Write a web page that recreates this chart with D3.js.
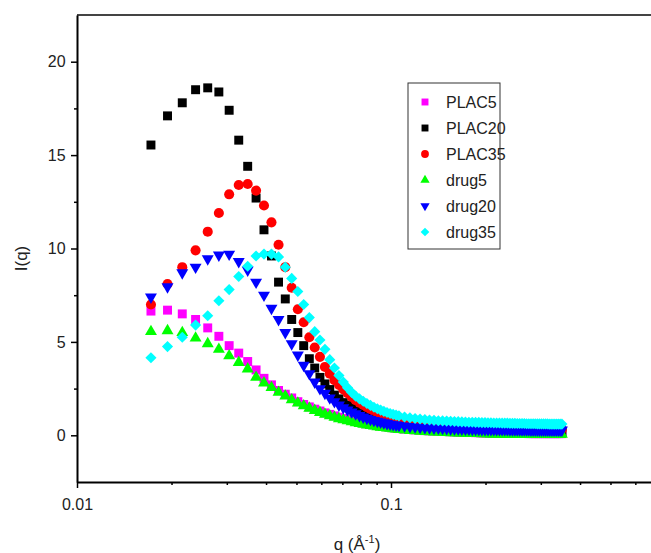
<!DOCTYPE html>
<html lang="en">
<head>
  <meta charset="UTF-8">
  <title>I(q) vs q</title>
  <script src="https://d3js.org/d3.v7.min.js"></script>
  <style>
    body { margin: 0; background: #fff; }
    svg { display: block; font-family: "Liberation Sans", Arial, sans-serif; }
  </style>
</head>
<body>
<script>
// scattering vector q (1/Å), shared by every sample
const q = [0.0172, 0.01942, 0.02164, 0.02386, 0.02608, 0.0283, 0.03052, 0.03274, 0.03496, 0.03718,
  0.0394, 0.04162, 0.04384, 0.04606, 0.04828, 0.0505, 0.05272, 0.05494, 0.05716, 0.05938,
  0.0616, 0.06382, 0.06604, 0.06826, 0.07048, 0.0727, 0.07492, 0.07714, 0.07936, 0.08158,
  0.0838, 0.08602, 0.08824, 0.09046, 0.09268, 0.0949, 0.09712, 0.09934, 0.10156, 0.10378,
  0.106, 0.11044, 0.11488, 0.11932, 0.12376, 0.1282, 0.13264, 0.13708, 0.14152, 0.14596,
  0.1504, 0.15484, 0.15928, 0.16372, 0.16816, 0.1726, 0.17704, 0.18148, 0.18592, 0.19036,
  0.1948, 0.19924, 0.20368, 0.20812, 0.21256, 0.217, 0.22144, 0.22588, 0.23032, 0.23476,
  0.2392, 0.24364, 0.24808, 0.25252, 0.25696, 0.2614, 0.26584, 0.27028, 0.27472, 0.27916,
  0.2836, 0.28804, 0.29248, 0.29692, 0.30136, 0.3058, 0.31024, 0.31468, 0.31912, 0.32356,
  0.328, 0.33244, 0.33688, 0.34132, 0.34576, 0.3502];

const plac5 = [6.65, 6.7, 6.5, 6.2, 5.75, 5.3, 4.8, 4.4, 3.95, 3.5,
  3.05, 2.7, 2.4, 2.2, 2.0, 1.8, 1.65, 1.52, 1.4, 1.3,
  1.2, 1.12, 1.04, 0.97, 0.9, 0.85, 0.8, 0.75, 0.7, 0.66,
  0.62, 0.59, 0.56, 0.53, 0.5, 0.47, 0.45, 0.42, 0.4, 0.38,
  0.36, 0.33, 0.31, 0.29, 0.27, 0.25, 0.24, 0.23, 0.22, 0.21,
  0.2, 0.19, 0.18, 0.17, 0.17, 0.16, 0.15, 0.15, 0.14, 0.14,
  0.13, 0.13, 0.13, 0.12, 0.12, 0.12, 0.11, 0.11, 0.11, 0.11,
  0.1, 0.1, 0.1, 0.1, 0.1, 0.1, 0.1, 0.1, 0.09, 0.09,
  0.09, 0.09, 0.09, 0.09, 0.09, 0.09, 0.09, 0.09, 0.09, 0.09,
  0.09, 0.09, 0.09, 0.09, 0.09, 0.09];

const plac20 = [15.54, 17.1, 17.8, 18.5, 18.6, 18.38, 17.4, 15.8, 14.4, 12.7,
  11.0, 9.6, 8.2, 7.3, 6.2, 5.5, 4.8, 4.1, 3.6, 3.1,
  2.75, 2.45, 2.15, 1.95, 1.75, 1.6, 1.45, 1.32, 1.2, 1.1,
  1.0, 0.93, 0.86, 0.8, 0.74, 0.69, 0.64, 0.6, 0.56, 0.53,
  0.5, 0.45, 0.41, 0.38, 0.35, 0.33, 0.31, 0.29, 0.27, 0.26,
  0.25, 0.24, 0.23, 0.22, 0.21, 0.2, 0.2, 0.19, 0.19, 0.18,
  0.18, 0.18, 0.17, 0.17, 0.17, 0.17, 0.16, 0.16, 0.16, 0.16,
  0.16, 0.16, 0.15, 0.15, 0.15, 0.15, 0.15, 0.15, 0.15, 0.15,
  0.15, 0.15, 0.15, 0.15, 0.15, 0.15, 0.15, 0.15, 0.15, 0.15,
  0.15, 0.15, 0.15, 0.15, 0.15, 0.15];

const plac35 = [7.0, 8.1, 9.0, 9.9, 10.9, 11.9, 12.9, 13.4, 13.45, 13.1,
  12.3, 11.4, 10.2, 9.0, 7.9, 6.75, 6.05, 5.25, 4.7, 4.2,
  3.66, 3.3, 2.95, 2.7, 2.45, 2.25, 2.05, 1.88, 1.75, 1.62,
  1.5, 1.4, 1.32, 1.24, 1.16, 1.09, 1.03, 0.97, 0.92, 0.87,
  0.83, 0.76, 0.7, 0.65, 0.61, 0.57, 0.54, 0.52, 0.5, 0.48,
  0.46, 0.45, 0.44, 0.43, 0.42, 0.41, 0.4, 0.4, 0.39, 0.39,
  0.38, 0.38, 0.38, 0.37, 0.37, 0.37, 0.36, 0.36, 0.36, 0.36,
  0.35, 0.35, 0.35, 0.35, 0.35, 0.34, 0.34, 0.34, 0.34, 0.34,
  0.34, 0.34, 0.33, 0.33, 0.33, 0.33, 0.33, 0.33, 0.33, 0.33,
  0.33, 0.33, 0.33, 0.33, 0.33, 0.33];

const drug5 = [5.55, 5.6, 5.5, 5.2, 4.9, 4.6, 4.25, 3.9, 3.55, 3.1,
  2.8, 2.55, 2.3, 2.1, 1.9, 1.72, 1.58, 1.45, 1.33, 1.22,
  1.12, 1.04, 0.96, 0.89, 0.83, 0.77, 0.72, 0.67, 0.63, 0.59,
  0.55, 0.52, 0.49, 0.46, 0.43, 0.41, 0.39, 0.37, 0.35, 0.33,
  0.31, 0.28, 0.26, 0.24, 0.22, 0.2, 0.19, 0.18, 0.17, 0.16,
  0.15, 0.14, 0.13, 0.12, 0.12, 0.11, 0.1, 0.1, 0.09, 0.09,
  0.08, 0.08, 0.08, 0.07, 0.07, 0.07, 0.07, 0.06, 0.06, 0.06,
  0.06, 0.06, 0.06, 0.06, 0.05, 0.05, 0.05, 0.05, 0.05, 0.05,
  0.05, 0.05, 0.05, 0.05, 0.05, 0.05, 0.05, 0.05, 0.05, 0.05,
  0.05, 0.05, 0.05, 0.05, 0.05, 0.05];

const drug20 = [7.4, 7.95, 8.7, 9.0, 9.45, 9.65, 9.7, 9.3, 8.85, 8.2,
  7.5, 6.8, 6.2, 5.5, 4.9, 4.3, 3.75, 3.3, 2.85, 2.5,
  2.25, 2.0, 1.8, 1.62, 1.48, 1.36, 1.25, 1.15, 1.06, 0.98,
  0.91, 0.85, 0.8, 0.75, 0.71, 0.67, 0.63, 0.6, 0.57, 0.55,
  0.53, 0.5, 0.47, 0.45, 0.43, 0.41, 0.4, 0.39, 0.38, 0.37,
  0.36, 0.35, 0.34, 0.34, 0.33, 0.33, 0.33, 0.32, 0.32, 0.32,
  0.31, 0.31, 0.31, 0.31, 0.3, 0.3, 0.3, 0.3, 0.3, 0.3,
  0.29, 0.29, 0.29, 0.29, 0.29, 0.29, 0.29, 0.29, 0.29, 0.28,
  0.28, 0.28, 0.28, 0.28, 0.28, 0.28, 0.28, 0.28, 0.28, 0.28,
  0.28, 0.28, 0.28, 0.28, 0.28, 0.28];

const drug35 = [4.15, 4.75, 5.25, 5.9, 6.4, 7.2, 7.8, 8.5, 9.05, 9.6,
  9.7, 9.7, 9.55, 9.0, 8.4, 7.7, 7.0, 6.3, 5.55, 5.1,
  4.6, 4.05, 3.6, 3.2, 2.85, 2.55, 2.3, 2.1, 1.95, 1.82,
  1.7, 1.6, 1.5, 1.42, 1.35, 1.28, 1.22, 1.17, 1.12, 1.08,
  1.04, 0.98, 0.94, 0.9, 0.87, 0.84, 0.82, 0.8, 0.78, 0.77,
  0.76, 0.75, 0.74, 0.73, 0.72, 0.71, 0.7, 0.7, 0.69, 0.69,
  0.68, 0.68, 0.67, 0.67, 0.66, 0.66, 0.66, 0.65, 0.65, 0.65,
  0.64, 0.64, 0.64, 0.63, 0.63, 0.63, 0.63, 0.62, 0.62, 0.62,
  0.62, 0.62, 0.61, 0.61, 0.61, 0.61, 0.61, 0.61, 0.6, 0.6,
  0.6, 0.6, 0.6, 0.6, 0.6, 0.6];

const names = ["PLAC5", "PLAC20", "PLAC35", "drug5", "drug20", "drug35"];
const colors = ["#ff00ff", "#000000", "#ff0000", "#00ff00", "#0000ff", "#00ffff"];
const values = [plac5, plac20, plac35, drug5, drug20, drug35];

const xTicks = [0.01, 0.1];
const yTicks = [0, 5, 10, 15, 20];

const width = 651;
const height = 553;

const x = d3.scaleLog().domain([0.01, 1]).range([77, 705]);
const y = d3.scaleLinear().domain([-2.5, 22.5]).range([482, 15]);

// marker shapes, one per series (down triangle and diamond get rotated)
const shapes = [
  { type: d3.symbolSquare, size: 80, rot: 0 },
  { type: d3.symbolSquare, size: 80, rot: 0 },
  { type: d3.symbolCircle, size: 80, rot: 0 },
  { type: d3.symbolTriangle, size: 62, rot: 0 },
  { type: d3.symbolTriangle, size: 62, rot: 180 },
  { type: d3.symbolSquare, size: 62, rot: 45 }
];

const svg = d3.select("body").append("svg")
    .attr("width", width)
    .attr("height", height);

svg.append("rect").attr("width", width).attr("height", height).attr("fill", "#fff");

// points
values.forEach((vals, k) => {
  const s = shapes[k];
  const sym = d3.symbol().type(s.type).size(s.size);
  svg.append("g")
    .selectAll("path")
    .data(vals.map((v, i) => [q[i], v]))
    .join("path")
      .attr("d", sym)
      .attr("transform", d => `translate(${x(d[0])},${y(d[1])}) rotate(${s.rot})`)
      .attr("fill", colors[k]);
});

// frame: top line
svg.append("line")
    .attr("x1", x(0.01)).attr("x2", width + 10)
    .attr("y1", y(22.5)).attr("y2", y(22.5))
    .attr("stroke", "#444").attr("stroke-width", 2);

// x axis
const minorX = [];
for (const d of [0.01, 0.1]) for (let m = 2; m <= 9; m++) minorX.push(d * m);

const gx = svg.append("g").attr("transform", `translate(0,${y(-2.5)})`);
gx.call(d3.axisBottom(x).tickValues(xTicks).tickSize(6).tickSizeOuter(0)
    .tickFormat(d => String(d)));
gx.append("g").call(d3.axisBottom(x).tickValues(minorX).tickSize(3).tickFormat(""))
  .select(".domain").remove();

// y axis
const gy = svg.append("g").attr("transform", `translate(${x(0.01)},0)`);
gy.call(d3.axisLeft(y).tickValues(yTicks).tickSize(6).tickSizeOuter(0));
gy.append("g").call(d3.axisLeft(y).tickValues([2.5, 7.5, 12.5, 17.5]).tickSize(3).tickFormat(""))
  .select(".domain").remove();

svg.selectAll(".domain").attr("stroke", "#000").attr("stroke-width", 2);
svg.selectAll(".tick line").attr("stroke", "#000").attr("stroke-width", 1.5);
svg.selectAll(".tick text")
    .attr("font-family", '"Liberation Sans", Arial, sans-serif')
    .attr("font-size", 16)
    .attr("fill", "#222");
gx.selectAll(".tick text").attr("dy", "1.2em");
gy.selectAll(".tick text").attr("dx", "-0.15em");

// axis titles
const xt = svg.append("text")
    .attr("x", 357).attr("y", 550)
    .attr("text-anchor", "middle")
    .attr("font-size", 17)
    .attr("fill", "#222");
xt.append("tspan").text("q (Å");
xt.append("tspan").attr("dy", -7).attr("font-size", 11).text("-1");
xt.append("tspan").attr("dy", 7).text(")");

svg.append("text")
    .attr("transform", `translate(27,${y(10) + 10}) rotate(-90)`)
    .attr("text-anchor", "middle")
    .attr("font-size", 17)
    .attr("fill", "#222")
    .text("I(q)");

// legend
const legend = svg.append("g").attr("transform", "translate(408,83)");
legend.append("rect")
    .attr("width", 92).attr("height", 166)
    .attr("fill", "#fff")
    .attr("stroke", "#333").attr("stroke-width", 1);

names.forEach((name, k) => {
  const s = shapes[k];
  const ly = 19 + k * 26;
  legend.append("path")
      .attr("d", d3.symbol().type(s.type).size(s.size * 0.6))
      .attr("transform", `translate(17,${ly}) rotate(${s.rot})`)
      .attr("fill", colors[k]);
  legend.append("text")
      .attr("x", 38).attr("y", ly + 6)
      .attr("font-size", 16)
      .attr("fill", "#222")
      .text(name);
});
</script>
</body>
</html>
